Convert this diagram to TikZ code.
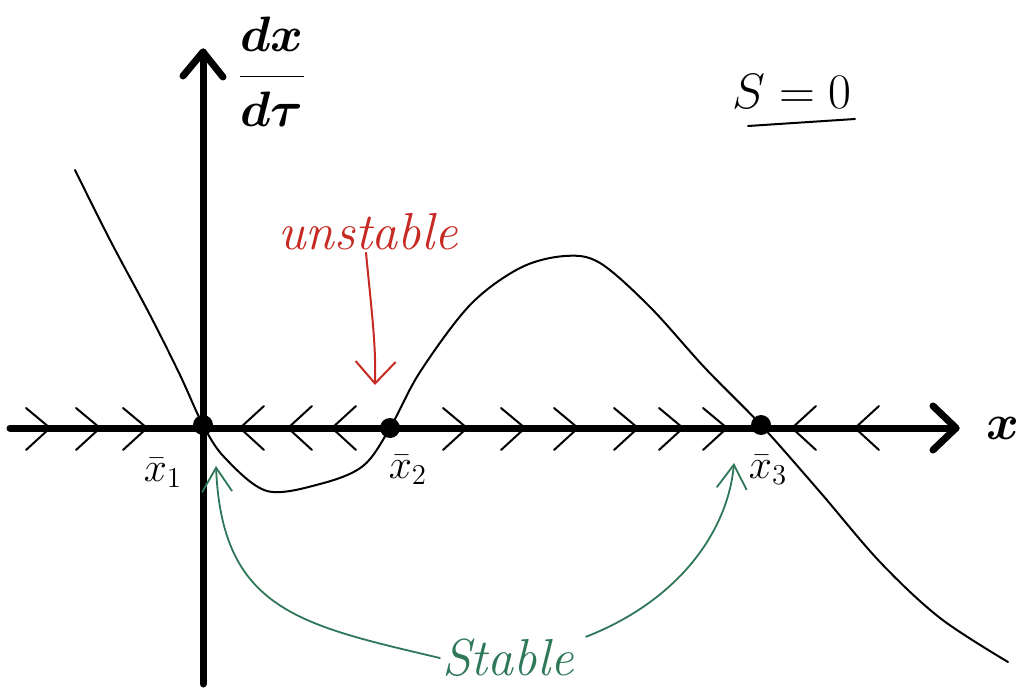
\documentclass[tikz,border=0pt]{standalone}
\usepackage{tikz}
\usetikzlibrary{arrows.meta,positioning,calc}
\definecolor{unstC}{HTML}{C62A22}
\definecolor{stabC}{HTML}{2E7758}
\tikzset{
  axisLine/.style={line width=3.5pt,line cap=round,line join=round},
  curveLine/.style={line width=1pt,line cap=round,line join=round},
  flowMark/.style={line width=1pt,line cap=round,line join=round},
  fixDot/.style={circle,fill=black,minimum size=10pt,inner sep=0pt},
  fixLabel/.style={font=\fontsize{22}{26}\selectfont,inner sep=1pt},
  unstLine/.style={-{Straight Barb[length=11pt,width=20pt]},unstC,line width=1pt,line cap=round},
  stabLine/.style={-{Straight Barb[length=12pt,width=15pt]},stabC,line width=0.9pt,line cap=round},
}

\begin{document}
\begin{tikzpicture}[x=0.5pt,y=-0.5pt]
\useasboundingbox (0,0) rectangle (1026,689);

% axes with open chevron heads
\coordinate (xLeft)  at (10,428);
\coordinate (xRight) at (956,428);
\coordinate (yBot)   at (203,684);
\coordinate (yTop)   at (203,52);
\draw[axisLine] (xLeft) -- (xRight);
\draw[axisLine] ($(xRight)+(-23,-22)$) -- (xRight) -- ($(xRight)+(-23,22)$);
\draw[axisLine] (yBot) -- (yTop);
\draw[axisLine] ($(yTop)+(-20,24)$) -- (yTop) -- ($(yTop)+(20,25)$);

\node[font=\fontsize{34}{36}\selectfont\boldmath,inner sep=0pt] (xLab) at (1003,428) {$x$};
\node[font=\fontsize{26}{30}\selectfont\boldmath,inner sep=0pt] (yLab) at (272,72)
  {$\displaystyle\frac{dx}{d\tau}$};

\node[font=\fontsize{24}{28}\selectfont,inner sep=0pt] (sLab) at (792,92) {$S=0$};
\draw[curveLine] (748,126) -- (855,119);

% dx/dtau against x
\draw[curveLine] plot[smooth,tension=0.55] coordinates {
  (75,170) (110,240) (150,315) (180,375) (203,425) (225,458) (267,491)
  (320,484) (363,466) (390,428) (420,372) (470,305) (520,268) (565,256)
  (600,263) (650,307) (705,368) (761,425) (820,492) (880,562) (940,618) (1008,662)};

% flow along the phase line
\foreach \t in {50,100,147,467,525,578,638,683,727}
  \draw[flowMark] ({\t-24},408) -- (\t,428) -- ({\t-24},450);
\foreach \t in {240,288,332,792,855}
  \draw[flowMark] ({\t+24},406) -- (\t,428) -- ({\t+24},450);

% fixed points
\node[fixDot] (x1) at (203,425) {};
\node[fixDot] (x2) at (390,428) {};
\node[fixDot] (x3) at (761,425) {};
\node[fixLabel] (x1Lab) at (163,473) {$\bar{x}_1$};
\node[fixLabel] (x2Lab) at (408,470) {$\bar{x}_2$};
\node[fixLabel] (x3Lab) at (768,470) {$\bar{x}_3$};

% notes
\node[unstC,font=\fontsize{26}{30}\selectfont\itshape,inner sep=1pt] (unst) at (368,232) {unstable};
\coordinate (unstTip) at (375,385);
\draw[unstLine] ([xshift=-1pt]unst.south) .. controls (372,315) and (376,345) .. (unstTip);

\node[stabC,font=\fontsize{26}{30}\selectfont\itshape,inner sep=1pt] (stab) at (508,658) {Stable};
\coordinate (stabTipL) at (216,466);
\coordinate (stabTipR) at (734,463);
\draw[stabLine] (stab.west) .. controls (300,625) and (222,610) .. (stabTipL);
\draw[stabLine] ([xshift=5pt]stab.north east) .. controls (680,600) and (728,530) .. (stabTipR);

\end{tikzpicture}
\end{document}
